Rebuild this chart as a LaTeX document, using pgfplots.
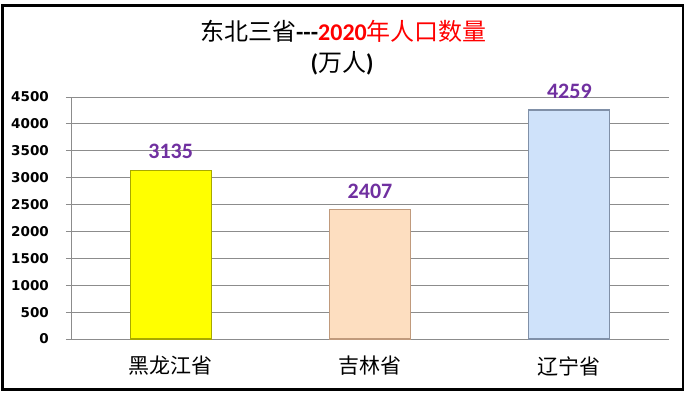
\documentclass[border=0pt]{standalone}
\usepackage{pgfplots}
\pgfplotsset{compat=1.18}
\usepackage{fontspec}
\setmainfont{DejaVu Sans}
\newfontfamily\cjk{Noto Sans CJK SC}
\newfontfamily\carl{Carlito}
\definecolor{valpurple}{HTML}{7030A0}
\definecolor{gridgray}{HTML}{8C8C8C}
\definecolor{yel}{HTML}{FFFF00}
\definecolor{yeledge}{HTML}{A8A800}
\definecolor{peach}{HTML}{FDDEC0}
\definecolor{peachedge}{HTML}{C09A7C}
\definecolor{lblue}{HTML}{CFE2FA}
\definecolor{lblueedge}{HTML}{8090A8}
\begin{document}
\begin{tikzpicture}[x=1bp,y=1bp]
\path[use as bounding box] (0,0) rectangle (689,395);
\draw[line width=2.5bp] (2.7,389.7) rectangle (683,5.5);
\node[font=\fontsize{24bp}{24bp}\selectfont, inner sep=0] at (343.5,364)
  {{\cjk 东北三省}{\carl\bfseries ---}{\color{red}\carl\bfseries 2020}{\color{red}\cjk 年人口数量}};
\node[font=\fontsize{24bp}{24bp}\selectfont, inner sep=0] at (342,332)
  {{\carl\bfseries (}{\cjk 万人}{\carl\bfseries )}};
\begin{axis}[
  at={(71bp,56bp)}, anchor=south west,
  scale only axis, width=598bp, height=242bp,
  xmin=-0.5, xmax=2.5, ymin=0, ymax=4500,
  ytick={0,500,...,4500},
  ymajorgrids, grid style={gridgray, line width=0.8bp},
  axis lines*=left,
  axis line style={gridgray, line width=0.8bp},
  tick style={gridgray, line width=0.8bp},
  tick align=outside, major tick length=5bp,
  /pgf/number format/assume math mode=true,
  /pgf/number format/1000 sep={},
  yticklabel style={font=\bfseries\fontsize{13.5bp}{13.5bp}\selectfont, inner sep=0, xshift=-17bp},
  xtick={0,1,2},
  xticklabels={黑龙江省,吉林省,辽宁省},
  x tick style={draw=none},
  xticklabel style={font=\cjk\fontsize{21bp}{21bp}\selectfont, anchor=center, yshift=-22bp},
  extra x ticks={-0.5,0.5,1.5,2.5},
  extra x tick labels={},
  extra x tick style={tick style={gridgray, line width=0.8bp}, grid=none},
  clip=false,
  nodes near coords,
  every node near coord/.append style={font=\carl\bfseries\fontsize{22bp}{22bp}\selectfont, text=valpurple, anchor=base, yshift=11.5bp},
]
\addplot[ybar, bar width=81bp, fill=yel, draw=yeledge, line width=1.2bp] coordinates {(0,3135)};
\addplot[ybar, bar width=81bp, fill=peach, draw=peachedge, line width=1.2bp] coordinates {(1,2407)};
\addplot[ybar, bar width=81bp, fill=lblue, draw=lblueedge, line width=1.2bp] coordinates {(2,4259)};
\end{axis}
\end{tikzpicture}
\end{document}
